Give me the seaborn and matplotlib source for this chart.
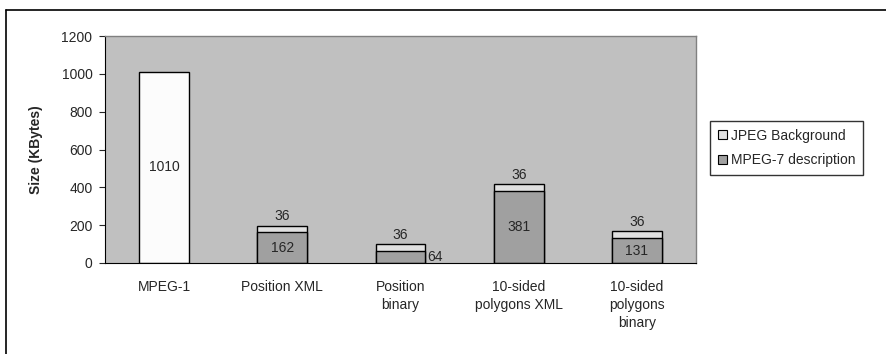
import numpy as np
import pandas as pd
import matplotlib
matplotlib.use("Agg")
import matplotlib.pyplot as plt
import seaborn as sns
from matplotlib.patches import Patch

categories = ["MPEG-1", "Position XML", "Position\nbinary", "10-sided\npolygons XML", "10-sided\npolygons\nbinary"]
mpeg1 = [1010, 0, 0, 0, 0]
mpeg7 = [0, 162, 64, 381, 131]
jpeg = [0, 36, 36, 36, 36]
legend_labels = ["JPEG Background", "MPEG-7 description"]

sns.set_style("white")
plt.rcParams["font.family"] = ["Liberation Sans", "DejaVu Sans"]

df = pd.DataFrame({"cat": categories, "mpeg1": mpeg1, "mpeg7": mpeg7, "jpeg": jpeg})
df["total"] = df["mpeg7"] + df["jpeg"]

fig = plt.figure(figsize=(8.86, 3.54), dpi=100)
ax = fig.add_axes([105/886, 1-263/354, (696-105)/886, (263-36)/354])
ax.set_facecolor("#C0C0C0")

light = "#E0E0E0"
dark = "#A0A0A0"
white = "#FCFCFC"
w = 0.42
sns.barplot(data=df, x="cat", y="total", color=light, edgecolor="black", linewidth=1, width=w, ax=ax, saturation=1)
sns.barplot(data=df, x="cat", y="mpeg7", color=dark, edgecolor="black", linewidth=1, width=w, ax=ax, saturation=1)
sns.barplot(data=df, x="cat", y="mpeg1", color=white, edgecolor="black", linewidth=1, width=w, ax=ax, saturation=1)

# hide zero-height bars
for p in ax.patches:
    if p.get_height() == 0:
        p.set_visible(False)

fs = 10
for i, row in df.iterrows():
    if row["mpeg1"] > 0:
        ax.text(i, row["mpeg1"] / 2, str(row["mpeg1"]), ha="center", va="center", fontsize=fs)
    if row["total"] > 0:
        ax.text(i, row["total"] + 12, str(row["jpeg"]), ha="center", va="bottom", fontsize=fs)
        if row["mpeg7"] > 100:
            ax.text(i, row["mpeg7"] / 2, str(row["mpeg7"]), ha="center", va="center", fontsize=fs)
        else:
            ax.text(i + w / 2 + 0.02, row["mpeg7"] / 2, str(row["mpeg7"]), ha="left", va="center", fontsize=fs)

ax.set_xlim(-0.5, 4.5)
ax.set_ylim(0, 1200)
ax.set_yticks(range(0, 1201, 200))
ax.tick_params(axis="y", direction="out", length=4, width=0.8, labelsize=fs, left=True, pad=5)
ax.set_xticks(range(5))
ax.set_xticklabels(categories, fontsize=fs, linespacing=1.4)
ax.tick_params(axis="x", length=0, pad=12)
ax.set_xticks(np.arange(0.5, 4.6, 1), minor=True)
ax.tick_params(axis="x", which="minor", direction="out", length=4, width=0.8)
ax.set_xlabel("")
ax.set_ylabel("Size (KBytes)", fontsize=fs, fontweight="bold", labelpad=13)

for s in ["left", "bottom"]:
    ax.spines[s].set_color("black")
    ax.spines[s].set_linewidth(0.8)
for s in ["top", "right"]:
    ax.spines[s].set_color("#808080")
    ax.spines[s].set_linewidth(1)

handles = [Patch(facecolor=light, edgecolor="black", linewidth=0.8),
           Patch(facecolor=dark, edgecolor="black", linewidth=0.8)]
leg = fig.legend(handles, legend_labels, loc="upper left", bbox_to_anchor=(710/886, 1-121/354),
                 fontsize=fs, frameon=True, fancybox=False, borderaxespad=0,
                 handlelength=0.65, handleheight=0.65, handletextpad=0.3, borderpad=0.55,
                 labelspacing=0.75)
leg.get_frame().set_edgecolor("black")
leg.get_frame().set_linewidth(1)

# outer chart frame
fig.add_artist(plt.Line2D([6/886, 6/886], [0, 1-10/354], color="black", lw=1.2, transform=fig.transFigure))
fig.add_artist(plt.Line2D([6/886, 1], [1-10/354, 1-10/354], color="black", lw=1.2, transform=fig.transFigure))

fig.savefig("out.png", dpi=100)
